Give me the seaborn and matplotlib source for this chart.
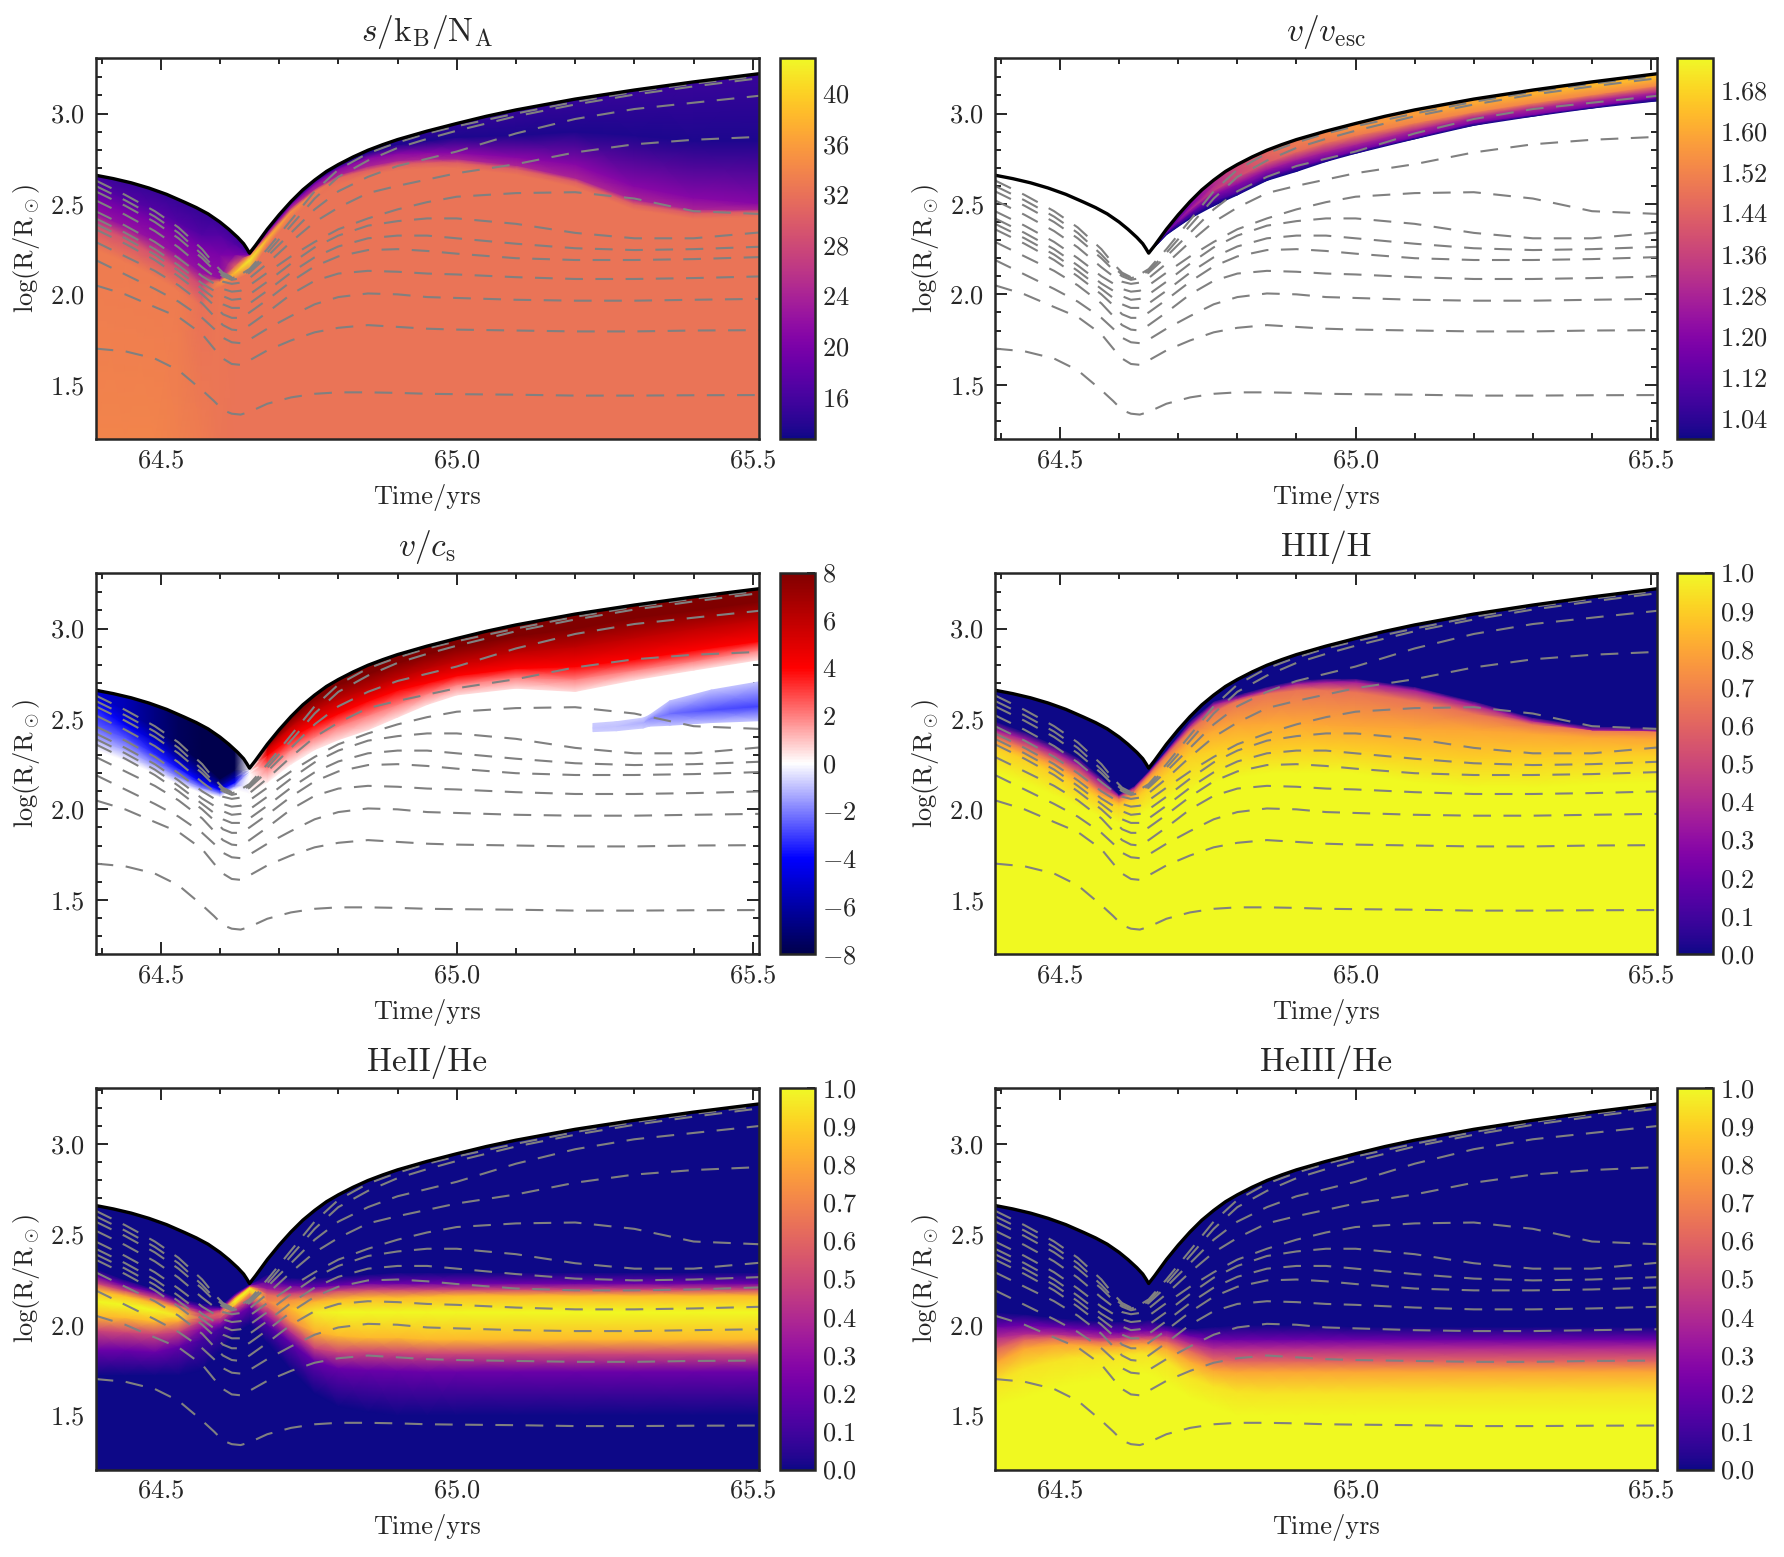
import numpy as np
import matplotlib
matplotlib.use("Agg")
import matplotlib.pyplot as plt
import seaborn as sns
from matplotlib.cm import ScalarMappable
from matplotlib.colors import Normalize
from matplotlib.patches import Polygon
from matplotlib.ticker import FormatStrFormatter, MultipleLocator

T = [64.39, 64.44, 64.49, 64.53, 64.57, 64.60, 64.625, 64.65, 64.68, 64.72, 64.76,
     64.80, 64.85, 64.90, 64.95, 65.0, 65.1, 65.2, 65.3, 65.4, 65.51]

surface = [2.659, 2.625, 2.577, 2.525, 2.463, 2.40, 2.33, 2.228, 2.36, 2.513, 2.632,
           2.718, 2.797, 2.856, 2.903, 2.945, 3.02, 3.08, 3.13, 3.175, 3.22]
floor = [1.2] * 21

# black outer radius, on a finer time axis
surf_t = [64.39, 64.42, 64.45, 64.48, 64.51, 64.54, 64.56, 64.58, 64.60, 64.615, 64.63, 64.64, 64.645,
          64.65, 64.66, 64.67, 64.68, 64.69, 64.70, 64.72, 64.74, 64.76, 64.78, 64.80, 64.825, 64.85,
          64.875, 64.90, 64.95, 65.0, 65.05, 65.1, 65.2, 65.3, 65.4, 65.51]
surf_r = [2.659, 2.64, 2.617, 2.588, 2.553, 2.51, 2.48, 2.445, 2.40, 2.36, 2.315, 2.28, 2.255,
          2.228, 2.27, 2.315, 2.36, 2.40, 2.44, 2.513, 2.578, 2.632, 2.68, 2.718, 2.76, 2.797,
          2.828, 2.856, 2.903, 2.945, 2.985, 3.02, 3.08, 3.13, 3.175, 3.22]

# mass shells (dashed)
shell_t = [64.39, 64.44, 64.49, 64.53, 64.57, 64.59, 64.605, 64.62, 64.635, 64.65, 64.68, 64.72, 64.76,
           64.80, 64.85, 64.90, 64.95, 65.0, 65.1, 65.2, 65.3, 65.4, 65.51]
shells = [
    [1.70, 1.685, 1.645, 1.58, 1.47, 1.41, 1.36, 1.34, 1.335, 1.35, 1.395, 1.43, 1.45, 1.458, 1.458, 1.455, 1.45, 1.448, 1.445, 1.44, 1.44, 1.442, 1.443],
    [2.05, 2.0, 1.93, 1.875, 1.78, 1.70, 1.645, 1.615, 1.61, 1.635, 1.69, 1.745, 1.79, 1.815, 1.83, 1.82, 1.81, 1.805, 1.80, 1.795, 1.795, 1.80, 1.802],
    [2.19, 2.11, 2.03, 1.96, 1.87, 1.81, 1.76, 1.735, 1.73, 1.75, 1.81, 1.88, 1.945, 1.985, 2.005, 2.0, 1.985, 1.98, 1.97, 1.965, 1.965, 1.97, 1.975],
    [2.29, 2.21, 2.13, 2.05, 1.95, 1.88, 1.83, 1.805, 1.80, 1.83, 1.90, 2.0, 2.075, 2.115, 2.13, 2.125, 2.115, 2.11, 2.095, 2.085, 2.085, 2.09, 2.099],
    [2.36, 2.28, 2.19, 2.10, 2.0, 1.94, 1.89, 1.87, 1.87, 1.90, 1.97, 2.07, 2.155, 2.21, 2.245, 2.25, 2.24, 2.225, 2.20, 2.19, 2.19, 2.195, 2.206],
    [2.39, 2.31, 2.22, 2.13, 2.03, 1.98, 1.945, 1.925, 1.925, 1.95, 2.02, 2.12, 2.205, 2.265, 2.31, 2.325, 2.325, 2.31, 2.28, 2.255, 2.245, 2.25, 2.263],
    [2.42, 2.34, 2.25, 2.16, 2.06, 2.02, 1.99, 1.97, 1.975, 2.0, 2.07, 2.17, 2.26, 2.325, 2.38, 2.405, 2.42, 2.42, 2.39, 2.34, 2.31, 2.31, 2.342],
    [2.46, 2.38, 2.29, 2.20, 2.10, 2.06, 2.03, 2.015, 2.02, 2.05, 2.12, 2.21, 2.29, 2.36, 2.42, 2.47, 2.51, 2.54, 2.56, 2.565, 2.53, 2.46, 2.445],
    [2.52, 2.44, 2.35, 2.26, 2.15, 2.10, 2.07, 2.058, 2.065, 2.09, 2.17, 2.29, 2.40, 2.48, 2.56, 2.60, 2.635, 2.67, 2.72, 2.785, 2.83, 2.855, 2.871],
    [2.57, 2.49, 2.40, 2.31, 2.20, 2.135, 2.10, 2.08, 2.09, 2.12, 2.21, 2.34, 2.47, 2.57, 2.65, 2.71, 2.75, 2.79, 2.89, 2.97, 3.025, 3.06, 3.098],
    [2.60, 2.52, 2.43, 2.34, 2.22, 2.15, 2.11, 2.09, 2.10, 2.13, 2.23, 2.38, 2.53, 2.65, 2.74, 2.81, 2.86, 2.905, 2.985, 3.05, 3.105, 3.15, 3.195],
    [2.63, 2.55, 2.46, 2.37, 2.25, 2.17, 2.12, 2.095, 2.11, 2.14, 2.25, 2.41, 2.57, 2.69, 2.78, 2.84, 2.89, 2.93, 3.0, 3.065, 3.12, 3.165, 3.208],
]

# entropy: isolines from bottom to top, with the value carried along each one
s_y1 = [2.25, 2.18, 2.10, 2.02, 1.93, 2.04, 2.08, 2.12, 2.27, 2.42, 2.53, 2.61, 2.66, 2.69, 2.70, 2.70, 2.665, 2.595, 2.47, 2.42, 2.43]
s_y2 = [2.38, 2.31, 2.22, 2.14, 2.05, 2.07, 2.12, 2.19, 2.31, 2.46, 2.57, 2.645, 2.69, 2.72, 2.73, 2.73, 2.695, 2.625, 2.50, 2.45, 2.458]
s_y3 = [2.45, 2.38, 2.30, 2.22, 2.12, 2.09, 2.16, 2.215, 2.33, 2.48, 2.585, 2.66, 2.71, 2.74, 2.75, 2.75, 2.715, 2.645, 2.525, 2.47, 2.47]
s_y4 = [2.52, 2.46, 2.40, 2.33, 2.25, 2.22, 2.22, 2.22, 2.345, 2.495, 2.61, 2.695, 2.755, 2.78, 2.785, 2.785, 2.76, 2.72, 2.60, 2.535, 2.505]
s_y5 = [2.60, 2.53, 2.47, 2.40, 2.33, 2.33, 2.28, 2.225, 2.35, 2.505, 2.625, 2.71, 2.785, 2.83, 2.85, 2.87, 2.88, 2.90, 2.88, 2.85, 2.85]
s_v0 = [33.8, 33.8, 33.8, 33.5, 33.0, 32.5, 32.3, 32.3, 32.3, 32.3, 32.3, 32.3, 32.3, 32.3, 32.3, 32.3, 32.3, 32.3, 32.3, 32.3, 32.3]
s_v1 = [33, 33, 33, 33, 32, 32.5, 32.3, 32.3, 32.3, 32.3, 32.3, 32.3, 32.3, 32.3, 32.3, 32.3, 32.3, 32.3, 32.3, 32.3, 32.3]
s_v2 = [29, 29, 29, 29, 28, 35, 39, 42, 38, 35, 33, 31, 30, 30, 30, 30, 30, 30, 30, 30, 30]
s_v3 = [22, 22, 22, 22, 22, 22, 30, 34, 28, 25, 24, 24, 24, 24, 24, 24, 24, 24, 24, 24, 24]
s_v4 = [20, 20, 20, 20, 20, 20, 20, 20, 20, 21, 21, 21, 21, 21, 21, 21, 21, 21, 21, 21, 21]
s_v5 = [17, 17, 17, 17, 17, 17, 17, 17, 17, 16, 15, 14, 13.5, 13.5, 13.5, 13.5, 13.5, 13.5, 13.5, 13.5, 13.5]
s_v6 = [14, 14, 14, 14, 14, 14, 14, 14, 14, 14, 14, 14.5, 15, 15, 15.5, 15.5, 15.5, 15.5, 15.5, 15.5, 15.5]

# v/v_esc only exists after the cusp (knots from 64.65 on)
ve_low = [2.228, 2.33, 2.42, 2.49, 2.55, 2.63, 2.68, 2.735, 2.78, 2.86, 2.935, 2.985, 3.03, 3.07]
ve_m1 = [2.228, 2.335, 2.43, 2.515, 2.565, 2.655, 2.705, 2.75, 2.795, 2.87, 2.95, 2.995, 3.04, 3.09]
ve_m2 = [2.228, 2.34, 2.45, 2.55, 2.61, 2.69, 2.745, 2.79, 2.83, 2.91, 2.98, 3.03, 3.075, 3.12]
ve_m3 = [2.228, 2.345, 2.47, 2.575, 2.65, 2.73, 2.79, 2.84, 2.88, 2.95, 3.01, 3.06, 3.105, 3.155]
ve_m4 = [2.228, 2.355, 2.49, 2.605, 2.69, 2.77, 2.83, 2.88, 2.92, 2.995, 3.055, 3.105, 3.15, 3.195]
ve_v_low = [1.0] * 14
ve_v_m1 = [1.0, 1.02, 1.05, 1.08, 1.1, 1.12, 1.14, 1.15, 1.16, 1.17, 1.18, 1.18, 1.18, 1.18]
ve_v_m2 = [1.05, 1.08, 1.15, 1.2, 1.22, 1.25, 1.27, 1.28, 1.29, 1.3, 1.3, 1.3, 1.3, 1.3]
ve_v_m3 = [1.1, 1.15, 1.28, 1.34, 1.38, 1.42, 1.46, 1.48, 1.50, 1.52, 1.53, 1.53, 1.53, 1.53]
ve_v_m4 = [1.05, 1.1, 1.2, 1.3, 1.38, 1.45, 1.5, 1.53, 1.56, 1.58, 1.6, 1.61, 1.62, 1.63]
ve_v_top = [1.05, 1.1, 1.2, 1.3, 1.35, 1.4, 1.45, 1.48, 1.5, 1.55, 1.6, 1.62, 1.64, 1.65]

# v/c_s, zero line and the isolines above it, nothing is drawn under the zero line
cs_z0 = [2.33, 2.27, 2.20, 2.14, 2.09, 2.07, 2.11, 2.09, 2.15, 2.25, 2.33, 2.385, 2.44, 2.51, 2.58, 2.633, 2.67, 2.652, 2.716, 2.77, 2.827]
cs_z2 = [2.385, 2.33, 2.25, 2.18, 2.12, 2.09, 2.13, 2.2, 2.23, 2.33, 2.40, 2.46, 2.52, 2.58, 2.64, 2.69, 2.73, 2.72, 2.77, 2.82, 2.88]
cs_z4 = [2.458, 2.40, 2.31, 2.23, 2.15, 2.11, 2.15, 2.21, 2.30, 2.40, 2.47, 2.53, 2.60, 2.66, 2.70, 2.74, 2.78, 2.79, 2.83, 2.88, 2.93]
cs_z6 = [2.57, 2.47, 2.38, 2.28, 2.19, 2.13, 2.18, 2.22, 2.34, 2.46, 2.55, 2.61, 2.67, 2.73, 2.78, 2.82, 2.87, 2.90, 2.95, 3.0, 3.05]
cs_z8 = [2.64, 2.55, 2.45, 2.36, 2.26, 2.17, 2.22, 2.225, 2.35, 2.50, 2.61, 2.69, 2.75, 2.81, 2.86, 2.90, 2.96, 3.0, 3.06, 3.10, 3.15]
cs_sign = [-0.625, -0.7, -0.85, -0.95, -1, -1, -1, 0, 1, 1, 1, 1, 1, 1, 1, 1, 1, 1, 1, 1, 1]
cs_edge = [0, 0, 0, 0, 0, 0, 0, 0, 0.2, 0.3, 0.4, 0.5, 0.5, 0.5, 0.5, 0.5, 0.5, 0.5, 0.5, 0.5, 0.5]
cs_levels = [2, 4, 6, 8, 8]
# blue blob on the right of the v/c_s panel
blob_t = [65.23, 65.27, 65.315, 65.325, 65.36, 65.43, 65.51]
blob_low = [2.43, 2.435, 2.45, 2.46, 2.465, 2.48, 2.49]
blob_mid = [2.45, 2.46, 2.48, 2.50, 2.53, 2.55, 2.57]
blob_high = [2.475, 2.485, 2.505, 2.52, 2.60, 2.66, 2.705]
blob_v_edge = [-0.8, -0.8, -0.8, -0.9, -1.0, -1.0, -0.9]
blob_v_mid = [-0.9, -1.0, -1.3, -1.8, -2.3, -2.8, -3.0]

# HII/H
h2_100 = [2.20, 2.15, 2.08, 2.02, 1.96, 1.93, 1.95, 2.0, 2.05, 2.10, 2.15, 2.18, 2.20, 2.20, 2.20, 2.20, 2.15, 2.12, 2.12, 2.14, 2.15]
h2_90 = [2.34, 2.28, 2.20, 2.13, 2.05, 2.02, 2.05, 2.12, 2.20, 2.30, 2.33, 2.34, 2.33, 2.34, 2.34, 2.33, 2.30, 2.28, 2.29, 2.30, 2.30]
h2_80 = [2.37, 2.31, 2.24, 2.17, 2.08, 2.04, 2.08, 2.17, 2.26, 2.38, 2.44, 2.47, 2.48, 2.48, 2.47, 2.46, 2.45, 2.44, 2.42, 2.40, 2.39]
h2_65 = [2.40, 2.34, 2.27, 2.20, 2.10, 2.06, 2.10, 2.19, 2.30, 2.44, 2.54, 2.60, 2.64, 2.66, 2.66, 2.65, 2.60, 2.53, 2.47, 2.44, 2.44]
h2_35 = [2.44, 2.39, 2.32, 2.25, 2.15, 2.075, 2.12, 2.205, 2.32, 2.465, 2.58, 2.615, 2.66, 2.695, 2.705, 2.705, 2.66, 2.58, 2.49, 2.44, 2.435]
h2_00 = [2.49, 2.43, 2.36, 2.29, 2.18, 2.085, 2.13, 2.215, 2.33, 2.49, 2.60, 2.635, 2.68, 2.715, 2.725, 2.725, 2.68, 2.60, 2.51, 2.46, 2.455]
h2_levels = [1.0, 1.0, 0.9, 0.8, 0.65, 0.35, 0.0, 0.0]

# HeII/He, band with a peak that fades around the minimum
he2_lo0 = [1.72, 1.72, 1.72, 1.72, 1.75, 1.85, 1.95, 2.0, 1.90, 1.75, 1.62, 1.55, 1.52, 1.50, 1.50, 1.50, 1.50, 1.50, 1.50, 1.50, 1.50]
he2_lo2 = [1.86, 1.86, 1.85, 1.88, 1.92, 1.98, 2.05, 2.10, 2.0, 1.90, 1.80, 1.76, 1.75, 1.745, 1.74, 1.74, 1.74, 1.74, 1.74, 1.74, 1.74]
he2_lo5 = [1.97, 1.96, 1.95, 1.96, 1.98, 2.01, 2.09, 2.14, 2.05, 1.96, 1.87, 1.85, 1.85, 1.845, 1.84, 1.84, 1.84, 1.84, 1.84, 1.84, 1.84]
he2_lo8 = [2.05, 2.04, 2.02, 2.02, 2.02, 2.04, 2.11, 2.18, 2.10, 2.02, 1.96, 1.94, 1.93, 1.93, 1.92, 1.92, 1.92, 1.92, 1.92, 1.92, 1.92]
he2_peak = [2.13, 2.11, 2.08, 2.05, 2.04, 2.06, 2.13, 2.20, 2.13, 2.09, 2.07, 2.07, 2.07, 2.07, 2.07, 2.07, 2.07, 2.07, 2.07, 2.07, 2.07]
he2_hi8 = [2.19, 2.16, 2.12, 2.09, 2.06, 2.075, 2.145, 2.21, 2.17, 2.14, 2.13, 2.14, 2.15, 2.15, 2.155, 2.16, 2.16, 2.16, 2.16, 2.16, 2.16]
he2_hi5 = [2.23, 2.19, 2.15, 2.11, 2.08, 2.085, 2.155, 2.215, 2.20, 2.18, 2.18, 2.19, 2.195, 2.195, 2.195, 2.195, 2.195, 2.195, 2.195, 2.195, 2.195]
he2_hi2 = [2.27, 2.22, 2.18, 2.13, 2.10, 2.095, 2.165, 2.22, 2.24, 2.22, 2.21, 2.22, 2.23, 2.23, 2.23, 2.23, 2.23, 2.23, 2.23, 2.23, 2.23]
he2_hi0 = [2.31, 2.25, 2.20, 2.15, 2.12, 2.105, 2.175, 2.225, 2.28, 2.26, 2.26, 2.27, 2.28, 2.29, 2.29, 2.29, 2.29, 2.29, 2.29, 2.29, 2.29]
he2_levels = [0, 0, 0.2, 0.5, 0.85, 1.0, 0.85, 0.5, 0.2, 0, 0]
he2_amp = [1, 1, 1, 0.95, 0.55, 0.6, 1, 1, 0.7, 0.85, 0.97, 1, 1, 1, 1, 1, 1, 1, 1, 1, 1]

# HeIII/He
he3_100 = [1.55, 1.60, 1.65, 1.68, 1.70, 1.72, 1.73, 1.73, 1.68, 1.60, 1.55, 1.50, 1.50, 1.50, 1.50, 1.50, 1.50, 1.50, 1.50, 1.50, 1.50]
he3_95 = [1.68, 1.76, 1.80, 1.82, 1.83, 1.83, 1.84, 1.84, 1.80, 1.71, 1.66, 1.63, 1.62, 1.62, 1.62, 1.62, 1.62, 1.62, 1.62, 1.62, 1.62]
he3_80 = [1.79, 1.87, 1.89, 1.89, 1.88, 1.88, 1.89, 1.89, 1.87, 1.80, 1.75, 1.74, 1.74, 1.74, 1.74, 1.74, 1.74, 1.74, 1.74, 1.74, 1.74]
he3_60 = [1.87, 1.92, 1.93, 1.92, 1.91, 1.91, 1.92, 1.92, 1.91, 1.86, 1.81, 1.80, 1.80, 1.80, 1.80, 1.80, 1.80, 1.80, 1.80, 1.80, 1.80]
he3_40 = [1.93, 1.95, 1.95, 1.94, 1.93, 1.93, 1.94, 1.94, 1.94, 1.90, 1.87, 1.87, 1.87, 1.87, 1.87, 1.87, 1.87, 1.87, 1.87, 1.87, 1.87]
he3_20 = [1.99, 2.0, 1.99, 1.98, 1.97, 1.96, 1.97, 1.97, 1.97, 1.94, 1.92, 1.92, 1.92, 1.92, 1.92, 1.92, 1.92, 1.92, 1.92, 1.92, 1.92]
he3_00 = [2.07, 2.06, 2.04, 2.03, 2.02, 2.02, 2.02, 2.03, 2.0, 1.98, 1.99, 2.0, 2.0, 2.0, 2.0, 1.99, 1.99, 1.99, 1.99, 1.99, 1.99]
he3_levels = [1.0, 1.0, 0.95, 0.8, 0.6, 0.4, 0.2, 0.0, 0.0]

sns.set_style("ticks")
plt.rcParams["font.family"] = "cmr10"
plt.rcParams["mathtext.fontset"] = "cm"
plt.rcParams["axes.unicode_minus"] = False
plt.rcParams["axes.formatter.use_mathtext"] = True

W, H = 1784, 1557
fig = plt.figure(figsize=(W / 100, H / 100), dpi=100)
plasma = sns.color_palette("plasma", as_cmap=True)
roof = np.array(surface) + 0.06  # meshes go a bit past the surface and get clipped to it


def add_axes(x0, x1, y0, y1):
    return fig.add_axes([x0 / W, 1 - y1 / H, (x1 - x0) / W, (y1 - y0) / H])


def mesh(ax, t, tracks, values, cmap, vmin, vmax):
    # gouraud shading between the isolines, white stays where no isoline is
    t = np.array(t)
    Y = np.array(tracks)
    X = np.tile(t, (len(tracks), 1))
    C = np.vstack([np.broadcast_to(np.array(v, dtype=float), t.shape) for v in values])
    qm = ax.pcolormesh(X, Y, C, shading="gouraud", cmap=cmap, vmin=vmin, vmax=vmax, zorder=1)
    below = np.column_stack([surf_t + [surf_t[-1], surf_t[0]], surf_r + [1.0, 1.0]])
    qm.set_clip_path(Polygon(below, closed=True, transform=ax.transData))


def dress(ax, title, cax, cmap, vmin, vmax, ticks, fmt):
    for sh in shells:
        sns.lineplot(x=shell_t, y=sh, ax=ax, color="gray", linewidth=1.5, linestyle=(0, (8.5, 6)),
                     legend=False, errorbar=None, zorder=3)
    sns.lineplot(x=surf_t, y=surf_r, ax=ax, color="black", linewidth=2.4, legend=False,
                 errorbar=None, zorder=4)
    ax.set_xlim(64.39, 65.51)
    ax.set_ylim(1.2, 3.31)
    ax.xaxis.set_major_locator(MultipleLocator(0.5))
    ax.xaxis.set_minor_locator(MultipleLocator(0.1))
    ax.yaxis.set_major_locator(MultipleLocator(0.5))
    ax.yaxis.set_minor_locator(MultipleLocator(0.1))
    ax.xaxis.set_major_formatter(FormatStrFormatter(r"$%.1f$"))
    ax.yaxis.set_major_formatter(FormatStrFormatter(r"$%.1f$"))
    ax.tick_params(which="major", direction="in", length=8.6, width=1.4, top=True, right=True,
                   labelsize=19)
    ax.tick_params(axis="x", which="major", pad=7)
    ax.tick_params(axis="y", which="major", pad=8)
    ax.tick_params(which="minor", direction="in", length=4.3, width=1.4, top=True, right=True)
    for sp in ax.spines.values():
        sp.set_linewidth(1.8)
        sp.set_zorder(5)
    ax.set_xlabel("Time/yrs", fontsize=19, labelpad=8)
    ax.set_ylabel(r"$\log(\mathrm{R/R_\odot})$", fontsize=19, labelpad=6)
    ax.set_title(title, fontsize=24, pad=12)

    cb = fig.colorbar(ScalarMappable(Normalize(vmin, vmax), cmap), cax=cax, ticks=ticks,
                      format=FormatStrFormatter(fmt))
    cb.outline.set_linewidth(1.8)
    cax.tick_params(direction="in", length=6, width=1.4, labelsize=19, pad=5)


left = (95.6, 758.7, 780, 815)
right = (995, 1657, 1677, 1713)
rows = [(57.5, 439), (572.5, 954), (1087.7, 1469.5)]

frac_ticks = [0.0, 0.1, 0.2, 0.3, 0.4, 0.5, 0.6, 0.7, 0.8, 0.9, 1.0]

# entropy
ax = add_axes(left[0], left[1], *rows[0])
cax = add_axes(left[2], left[3], *rows[0])
mesh(ax, T, [floor, s_y1, s_y2, s_y3, s_y4, s_y5, roof],
     [s_v0, s_v1, s_v2, s_v3, s_v4, s_v5, s_v6], plasma, 12.7, 42.8)
dress(ax, r"$s/\mathrm{k_B/N_A}$", cax, plasma, 12.7, 42.8, [16, 20, 24, 28, 32, 36, 40], r"$%d$")

# v / v_esc
ax = add_axes(right[0], right[1], *rows[0])
cax = add_axes(right[2], right[3], *rows[0])
mesh(ax, T[7:], [ve_low, ve_m1, ve_m2, ve_m3, ve_m4, roof[7:]],
     [ve_v_low, ve_v_m1, ve_v_m2, ve_v_m3, ve_v_m4, ve_v_top], plasma, 1.0, 1.743)
dress(ax, r"$v/v_\mathrm{esc}$", cax, plasma, 1.0, 1.743,
      [1.04, 1.12, 1.20, 1.28, 1.36, 1.44, 1.52, 1.60, 1.68], r"$%.2f$")

# v / c_s
ax = add_axes(left[0], left[1], *rows[1])
cax = add_axes(left[2], left[3], *rows[1])
sign = np.array(cs_sign)
mesh(ax, T, [cs_z0, cs_z2, cs_z4, cs_z6, cs_z8, roof],
     [cs_edge] + [sign * lev for lev in cs_levels], "seismic", -8, 8)
mesh(ax, blob_t, [blob_low, blob_mid, blob_high], [blob_v_edge, blob_v_mid, blob_v_edge], "seismic", -8, 8)
dress(ax, r"$v/c_\mathrm{s}$", cax, "seismic", -8, 8, [-8, -6, -4, -2, 0, 2, 4, 6, 8], r"$%d$")

# HII / H
ax = add_axes(right[0], right[1], *rows[1])
cax = add_axes(right[2], right[3], *rows[1])
mesh(ax, T, [floor, h2_100, h2_90, h2_80, h2_65, h2_35, h2_00, roof], h2_levels, plasma, 0, 1)
dress(ax, "HII/H", cax, plasma, 0, 1, frac_ticks, r"$%.1f$")

# HeII / He
ax = add_axes(left[0], left[1], *rows[2])
cax = add_axes(left[2], left[3], *rows[2])
amp = np.array(he2_amp)
mesh(ax, T, [floor, he2_lo0, he2_lo2, he2_lo5, he2_lo8, he2_peak, he2_hi8, he2_hi5, he2_hi2, he2_hi0, roof],
     [amp * lev for lev in he2_levels], plasma, 0, 1)
dress(ax, "HeII/He", cax, plasma, 0, 1, frac_ticks, r"$%.1f$")

# HeIII / He
ax = add_axes(right[0], right[1], *rows[2])
cax = add_axes(right[2], right[3], *rows[2])
mesh(ax, T, [floor, he3_100, he3_95, he3_80, he3_60, he3_40, he3_20, he3_00, roof], he3_levels, plasma, 0, 1)
dress(ax, "HeIII/He", cax, plasma, 0, 1, frac_ticks, r"$%.1f$")

fig.savefig("out.png", dpi=100)
